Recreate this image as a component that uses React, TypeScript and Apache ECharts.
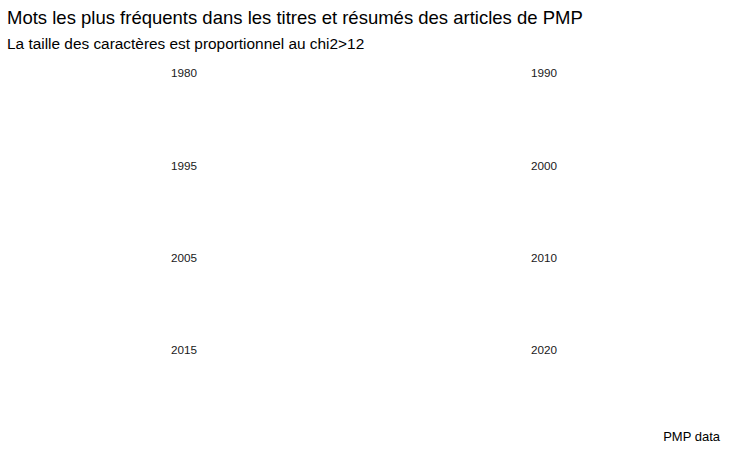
import React, { useEffect, useRef } from "react";
import * as echarts from "echarts";

const titleText = "Mots les plus fréquents dans les titres et résumés des articles de PMP";
const subtitleText = "La taille des caractères est proportionnel au chi2>12";
const captionText = "PMP data";
const years = ["1980", "1990", "1995", "2000", "2005", "2010", "2015", "2020"];
// No words are drawn in any facet of the reference (empty panels)
const words: { year: string; word: string; chi2: number }[] = [];

export default function App() {
  const ref = useRef<HTMLDivElement>(null);
  useEffect(() => {
    if (!ref.current) return;
    const chart = echarts.init(ref.current, null, { renderer: "svg" });
    const font = "Liberation Sans, Arial, sans-serif";
    const nCols = 2;
    const colCenters = [184, 544];
    const rowTops = [72, 165, 257, 349];
    const facetTexts = years.map((y, i) => ({
      type: "text",
      x: colCenters[i % nCols],
      y: rowTops[Math.floor(i / nCols)],
      style: {
        text: y,
        fill: "#1a1a1a",
        font: `11.7px ${font}`,
        textAlign: "center",
        textVerticalAlign: "middle",
      },
    }));
    chart.setOption({
      animation: false,
      backgroundColor: "#ffffff",
      graphic: [
        {
          type: "text",
          x: 7,
          y: 17,
          style: {
            text: titleText,
            fill: "#000000",
            font: `18.5px ${font}`,
            textAlign: "left",
            textVerticalAlign: "middle",
          },
        },
        {
          type: "text",
          x: 7,
          y: 43,
          style: {
            text: subtitleText,
            fill: "#000000",
            font: `15.4px ${font}`,
            textAlign: "left",
            textVerticalAlign: "middle",
          },
        },
        {
          type: "text",
          x: 720,
          y: 436,
          style: {
            text: captionText,
            fill: "#000000",
            font: `13px ${font}`,
            textAlign: "right",
            textVerticalAlign: "middle",
          },
        },
        ...facetTexts,
      ],
      series: [
        {
          type: "scatter",
          data: words.map((w) => [w.chi2, 0]),
        },
      ],
      xAxis: { show: false },
      yAxis: { show: false },
      grid: { show: false },
    });
    return () => chart.dispose();
  }, []);
  return <div ref={ref} style={{ width: 729, height: 450, position: "absolute", left: 0, top: 0 }} />;
}
